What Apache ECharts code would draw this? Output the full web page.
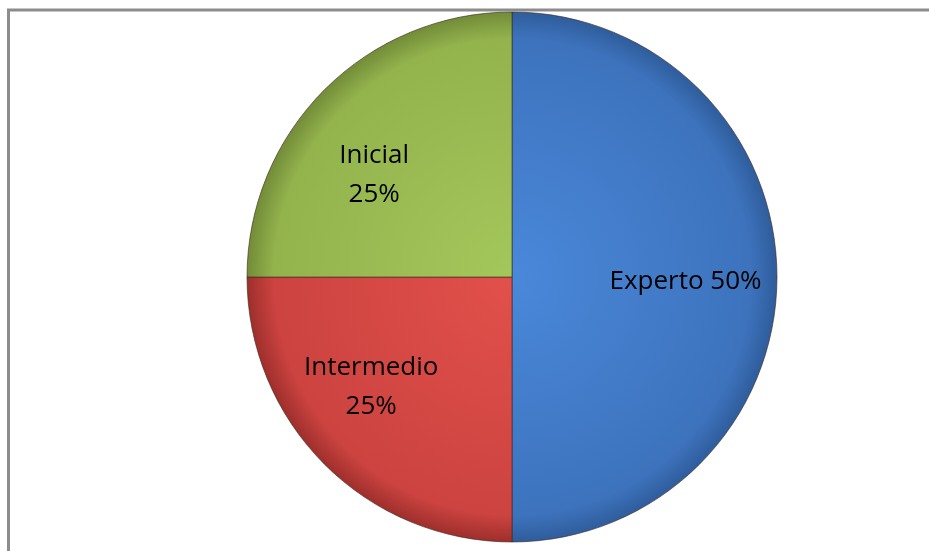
<!DOCTYPE html>
<html>
<head>
<meta charset="utf-8">
<script src="https://cdn.jsdelivr.net/npm/echarts@6/dist/echarts.min.js"></script>
<style>
html,body{margin:0;padding:0;background:#fff;}
#c{width:929px;height:551px;}
</style>
</head>
<body>
<div id="c"></div>
<script>
const categories = ['Experto', 'Intermedio', 'Inicial'];
const values = [50, 25, 25];

const colors = [
  ['#4a88da', '#3d73bd', '#2f5d9c'],
  ['#e2504b', '#cc4340', '#9e2f2c'],
  ['#a4c75b', '#93b34d', '#728c38']
];
const labelOffsets = [[38, 5], [-45, 14], [-42, -6]];

const chart = echarts.init(document.getElementById('c'));
const data = categories.map((name, i) => ({
  name: name,
  value: values[i],
  itemStyle: {
    color: {
      type: 'radial', x: 512, y: 277, r: 265, global: true,
      colorStops: [
        {offset: 0, color: colors[i][0]},
        {offset: 0.9, color: colors[i][1]},
        {offset: 1, color: colors[i][2]}
      ]
    }
  },
  label: {
    offset: labelOffsets[i],
    formatter: i === 0 ? '{b} {d}%' : '{b}\n{d}%'
  }
}));

chart.setOption({
  animation: false,
  graphic: [{
    type: 'rect',
    shape: {x: 8.5, y: 10, width: 960, height: 600},
    style: {fill: null, stroke: '#8c8c8c', lineWidth: 3}
  }],
  series: [{
    type: 'pie',
    center: [512, 277],
    radius: [0, 265],
    startAngle: 90,
    clockwise: true,
    data: data,
    itemStyle: {borderColor: 'rgba(60,40,30,0.6)', borderWidth: 1},
    label: {
      show: true,
      position: 'inside',
      color: '#000',
      fontFamily: 'Open Sans',
      fontSize: 26,
      lineHeight: 39
    },
    labelLine: {show: false},
    emphasis: {disabled: true}
  }]
});
</script>
</body>
</html>
